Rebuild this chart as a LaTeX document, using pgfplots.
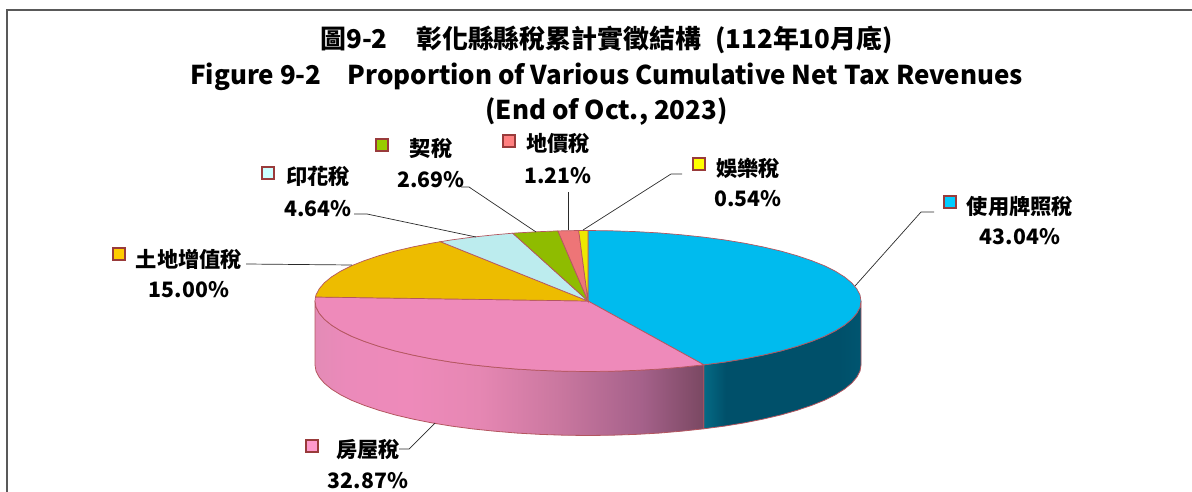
\documentclass[border=0pt]{standalone}
\usepackage{fontspec}
\setmainfont{Noto Sans CJK TC}
\usepackage{pgfplots}
\pgfplotsset{compat=1.18}
\definecolor{edgeRed}{HTML}{B4565F}
\definecolor{keyEdge}{HTML}{993B3B}
\definecolor{leader}{HTML}{2A2A2A}
\definecolor{sBlue}{HTML}{00BBEE}
\definecolor{sPink}{HTML}{EE8ABA}
\definecolor{sGold}{HTML}{EDBC00}
\definecolor{sAqua}{HTML}{BCECEE}
\definecolor{sGreen}{HTML}{8FBC00}
\definecolor{sRed}{HTML}{EE7577}
\definecolor{sYellow}{HTML}{EEE800}
\definecolor{kBlue}{HTML}{00CCFF}
\definecolor{kPink}{HTML}{FF99CC}
\definecolor{kGold}{HTML}{FFCC00}
\definecolor{kAqua}{HTML}{CCFFFF}
\definecolor{kGreen}{HTML}{99CC00}
\definecolor{kRed}{HTML}{FF8080}
\definecolor{kYellow}{HTML}{FFFF00}
\definecolor{pinkA}{HTML}{E38BB6}
\definecolor{pinkB}{HTML}{EB8ABA}
\definecolor{pinkC}{HTML}{E687B3}
\definecolor{pinkD}{HTML}{CB78A0}
\definecolor{pinkE}{HTML}{A5618A}
\definecolor{pinkF}{HTML}{7A4862}
\definecolor{blueA}{HTML}{056A85}
\definecolor{blueB}{HTML}{00506A}
\definecolor{blueC}{HTML}{005570}
\pgfdeclarehorizontalshading{pinkside}{100bp}{
  color(0bp)=(pinkA); color(25bp)=(pinkA); color(29bp)=(pinkB); color(37bp)=(sPink);
  color(46bp)=(pinkC); color(56bp)=(pinkD); color(67bp)=(pinkE); color(75bp)=(pinkF); color(100bp)=(pinkF)}
\pgfdeclarehorizontalshading{blueside}{100bp}{
  color(0bp)=(blueA); color(25bp)=(blueA); color(32bp)=(blueB); color(68bp)=(blueB); color(75bp)=(blueC); color(100bp)=(blueC)}
\newcommand{\lab}[3]{\node[font=\fontsize{#3}{#3}\selectfont\bfseries,inner sep=0pt,anchor=center] at (axis cs:#1) {#2};}

\begin{document}
\begin{tikzpicture}
\begin{axis}[
  scale only axis, width=1192bp, height=492bp,
  xmin=0, xmax=1192, ymin=0, ymax=492, y dir=reverse,
  hide axis, clip=true,
]
\path (rel axis cs:0,0) rectangle (rel axis cs:1,1);
% frame
\addplot[draw=black!65, line width=1.5bp] coordinates {(7,492) (7,10) (1192,10)};

% shares in percent, clockwise from the top:
% 43.04 32.87 15.00 4.64 2.69 1.21 0.54
% side faces
\addplot[shade, shading=blueside, draw=edgeRed, line width=0.8bp] coordinates {
 (861,301) (860,307.1) (856.8,313.2) (851.7,319.2) (844.5,325.1) (835.4,330.8) (824.4,336.3) (811.6,341.4)
 (797.1,346.3) (781,350.9) (763.5,355) (744.6,358.8) (724.5,362.1) (703.8,364.8)
 (703.8,428.8) (724.5,426.1) (744.6,422.8) (763.5,419) (781,414.9) (797.1,410.3) (811.6,405.4) (824.4,400.3)
 (835.4,394.8) (844.5,389.1) (851.7,383.2) (856.8,377.2) (860,371.1) (861,365)} -- cycle;
\addplot[shade, shading=pinkside, draw=edgeRed, line width=0.8bp] coordinates {
 (703.8,364.8) (681.4,367.2) (658.7,369.1) (635.4,370.4) (611.8,371.2) (588,371.5) (564.2,371.2) (540.6,370.4)
 (517.3,369.1) (494.6,367.2) (472.6,364.9) (451.5,362.1) (431.4,358.8) (412.5,355) (395,350.9) (378.9,346.3)
 (364.4,341.4) (351.6,336.3) (340.6,330.8) (331.5,325.1) (324.3,319.2) (319.2,313.2) (316,307.1) (315,301)
 (315,365) (316,371.1) (319.2,377.2) (324.3,383.2) (331.5,389.1) (340.6,394.8) (351.6,400.3) (364.4,405.4)
 (378.9,410.3) (395,414.9) (412.5,419) (431.4,422.8) (451.5,426.1) (472.6,428.9) (494.6,431.2) (517.3,433.1)
 (540.6,434.4) (564.2,435.2) (588,435.5) (611.8,435.2) (635.4,434.4) (658.7,433.1) (681.4,431.2) (703.8,428.8)} -- cycle;

% top wedges
\addplot[fill=sBlue, draw=edgeRed, line width=0.7bp] coordinates {
 (588,301) (588,230.5) (611.8,230.8) (635.4,231.6) (658.7,232.9) (681.4,234.8) (703.4,237.1) (724.5,239.9)
 (744.6,243.2) (763.5,247) (781,251.1) (797.1,255.7) (811.6,260.6) (824.4,265.7) (835.4,271.2) (844.5,276.9)
 (851.7,282.8) (856.8,288.8) (860,294.9) (861,301) (860,307.1) (856.8,313.2) (851.7,319.2) (844.5,325.1)
 (835.4,330.8) (824.4,336.3) (811.6,341.4) (797.1,346.3) (781,350.9) (763.5,355) (744.6,358.8) (724.5,362.1)
 (703.8,364.8)} -- cycle;
\addplot[fill=sPink, draw=edgeRed, line width=0.7bp] coordinates {
 (588,301) (703.8,364.8) (681.4,367.2) (658.7,369.1) (635.4,370.4) (611.8,371.2) (588,371.5) (564.2,371.2)
 (540.6,370.4) (517.3,369.1) (494.6,367.2) (472.6,364.9) (451.5,362.1) (431.4,358.8) (412.5,355) (395,350.9)
 (378.9,346.3) (364.4,341.4) (351.6,336.3) (340.6,330.8) (331.5,325.1) (324.3,319.2) (319.2,313.2) (316,307.1)
 (315,301) (315.5,297)} -- cycle;
\addplot[fill=sGold, draw=edgeRed, line width=0.7bp] coordinates {
 (588,301) (315.5,297) (316,294.9) (319.2,288.8) (324.3,282.8) (331.5,276.9) (340.6,271.2) (351.6,265.7)
 (364.4,260.6) (378.9,255.7) (395,251.1) (412.5,247) (431.4,243.2) (440.4,241.7)} -- cycle;
\addplot[fill=sAqua, draw=edgeRed, line width=0.7bp] coordinates {
 (588,301) (440.4,241.7) (451.5,239.9) (472.6,237.1) (494.6,234.8) (512.7,233.2)} -- cycle;
\addplot[fill=sGreen, draw=edgeRed, line width=0.7bp] coordinates {
 (588,301) (512.7,233.2) (517.3,232.9) (540.6,231.6) (557.9,230.9)} -- cycle;
\addplot[fill=sRed, draw=edgeRed, line width=0.7bp] coordinates {
 (588,301) (557.9,230.9) (564.2,230.8) (578.7,230.5)} -- cycle;
\addplot[fill=sYellow, draw=edgeRed, line width=0.7bp] coordinates {
 (588,301) (578.7,230.5) (588,230.5)} -- cycle;

% leader lines
\addplot[draw=leader, line width=0.7bp] coordinates {(855,286) (921,212) (934,212)};
\addplot[draw=leader, line width=0.7bp] coordinates {(583,230) (671,174) (682,174)};
\addplot[draw=leader, line width=0.7bp] coordinates {(568,192) (568,230)};
\addplot[draw=leader, line width=0.7bp] coordinates {(461,187) (469,187) (536,232)};
\addplot[draw=leader, line width=0.7bp] coordinates {(354,214) (367,214) (476,237)};
\addplot[draw=leader, line width=0.7bp] coordinates {(246,264) (352,265)};
\addplot[draw=leader, line width=0.7bp] coordinates {(399,449) (409,449) (435,423)};

% legend keys
\addplot[only marks, mark=square*, mark size=5.6bp, mark options={fill=kBlue, draw=keyEdge, line width=2bp}] coordinates {(950,202)};
\addplot[only marks, mark=square*, mark size=5.6bp, mark options={fill=kYellow, draw=keyEdge, line width=2bp}] coordinates {(699,164)};
\addplot[only marks, mark=square*, mark size=5.6bp, mark options={fill=kRed, draw=keyEdge, line width=2bp}] coordinates {(509,141)};
\addplot[only marks, mark=square*, mark size=5.6bp, mark options={fill=kGreen, draw=keyEdge, line width=2bp}] coordinates {(382,145)};
\addplot[only marks, mark=square*, mark size=5.6bp, mark options={fill=kAqua, draw=keyEdge, line width=2bp}] coordinates {(268,173)};
\addplot[only marks, mark=square*, mark size=5.6bp, mark options={fill=kGold, draw=keyEdge, line width=2bp}] coordinates {(119,254)};
\addplot[only marks, mark=square*, mark size=5.6bp, mark options={fill=kPink, draw=keyEdge, line width=2bp}] coordinates {(312,446)};

% title
\lab{606.5,40}{圖9-2\hspace{1.1em}彰化縣縣稅累計實徵結構\hspace{0.55em}(112年10月底)}{26}
\lab{606.5,77}{Figure 9-2\hspace{1em}Proportion of Various Cumulative Net Tax Revenues}{26}
\lab{606.5,112}{(End of Oct., 2023)}{26}

% labels
\lab{1020,206}{使用牌照稅}{21.3}
\lab{1020,237}{43.04\%}{21.3}
\lab{748,168}{娛樂稅}{21.3}
\lab{748,199}{0.54\%}{21.3}
\lab{558,144}{地價稅}{21.3}
\lab{558,176}{1.21\%}{21.3}
\lab{431,149}{契稅}{21.3}
\lab{431,180}{2.69\%}{21.3}
\lab{318,177}{印花稅}{21.3}
\lab{318,209}{4.64\%}{21.3}
\lab{189,259}{土地增值稅}{21.3}
\lab{189,290}{15.00\%}{21.3}
\lab{368,450}{房屋稅}{21.3}
\lab{368,481}{32.87\%}{21.3}
\end{axis}
\end{tikzpicture}
\end{document}
